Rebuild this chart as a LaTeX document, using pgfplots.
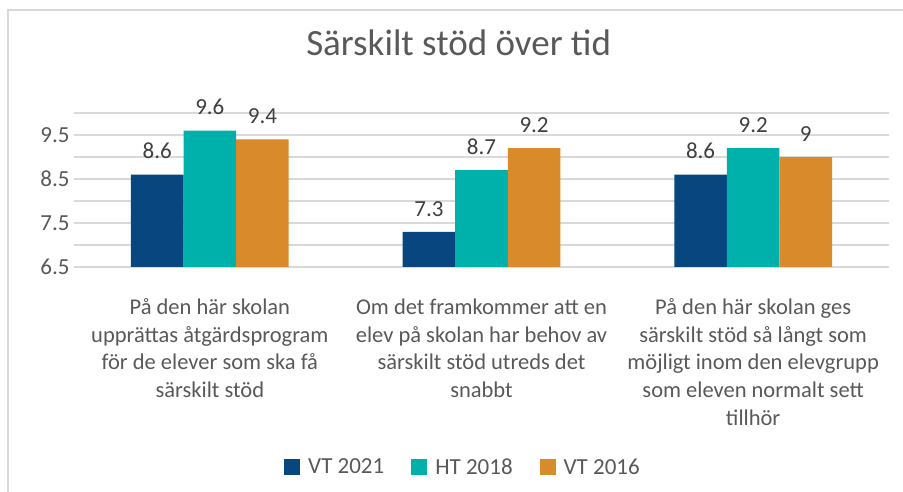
\documentclass[border=0pt]{standalone}
\usepackage{fontspec}
\setmainfont{Carlito}
\usepackage{pgfplots}
\pgfplotsset{compat=1.18}
\definecolor{cA}{HTML}{084680}
\definecolor{cB}{HTML}{00B0AA}
\definecolor{cC}{HTML}{D98B2B}
\definecolor{gridc}{HTML}{D9D9D9}
\definecolor{txt}{HTML}{595959}
\definecolor{lbl}{HTML}{404040}
\begin{document}
\begin{tikzpicture}[x=1pt,y=1pt]
\useasboundingbox (-74,-225) rectangle (829,267);
\begin{axis}[
  at={(0,0)}, anchor=south west,
  scale only axis, width=815pt, height=154pt,
  ybar=0pt, bar width=52.6pt,
  xmin=-0.5, xmax=2.5, ymin=6.5, ymax=10,
  xtick={0,1,2},
  xticklabels={{På den här skolan\\upprättas åtgärdsprogram\\för de elever som ska få\\särskilt stöd},
               {Om det framkommer att en\\elev på skolan har behov av\\särskilt stöd utreds det\\snabbt},
               {På den här skolan ges\\särskilt stöd så långt som\\möjligt inom den elevgrupp\\som eleven normalt sett\\tillhör}},
  xticklabel style={align=center, font=\fontsize{22.5}{27.6}\selectfont, text=txt, yshift=-24pt},
  ytick={6.5,7.5,8.5,9.5}, minor ytick={7,8,9,10},
  ymajorgrids, yminorgrids,
  major grid style={draw=gridc, line width=1.5pt},
  minor grid style={draw=gridc, line width=1.5pt},
  axis line style={draw=none}, tick style={draw=none},
  /pgf/number format/assume math mode=true,
  yticklabel style={font=\fontsize{23}{27}\selectfont, text=txt, xshift=-1pt},
  nodes near coords,
  nodes near coords style={font=\fontsize{23}{27}\selectfont, text=lbl, yshift=12pt},
  clip=false,
  title={Särskilt stöd över tid},
  title style={at={(0.472,1.42)}, anchor=center, font=\fontsize{37}{44}\selectfont, text=txt},
  legend columns=3,
  legend style={at={(0.4773,-1.2987)}, anchor=center, draw=none, fill=none,
    font=\fontsize{23}{27}\selectfont, text=txt,
    /tikz/every odd column/.append style={column sep=6pt},
    /tikz/every even column/.append style={column sep=25pt}},
  legend image code/.code={\fill[#1] (0pt,-8pt) rectangle (16pt,8pt);},
]
\addplot[fill=cA, draw=none] coordinates {(0,8.6) (1,7.3) (2,8.6)};
\addplot[fill=cB, draw=none] coordinates {(0,9.6) (1,8.7) (2,9.2)};
\addplot[fill=cC, draw=none] coordinates {(0,9.4) (1,9.2) (2,9)};
\legend{VT 2021, HT 2018, VT 2016}
\end{axis}
\draw[gridc, line width=1.5pt] (-66,-225) -- (-66,257) -- (829,257);
\end{tikzpicture}
\end{document}
